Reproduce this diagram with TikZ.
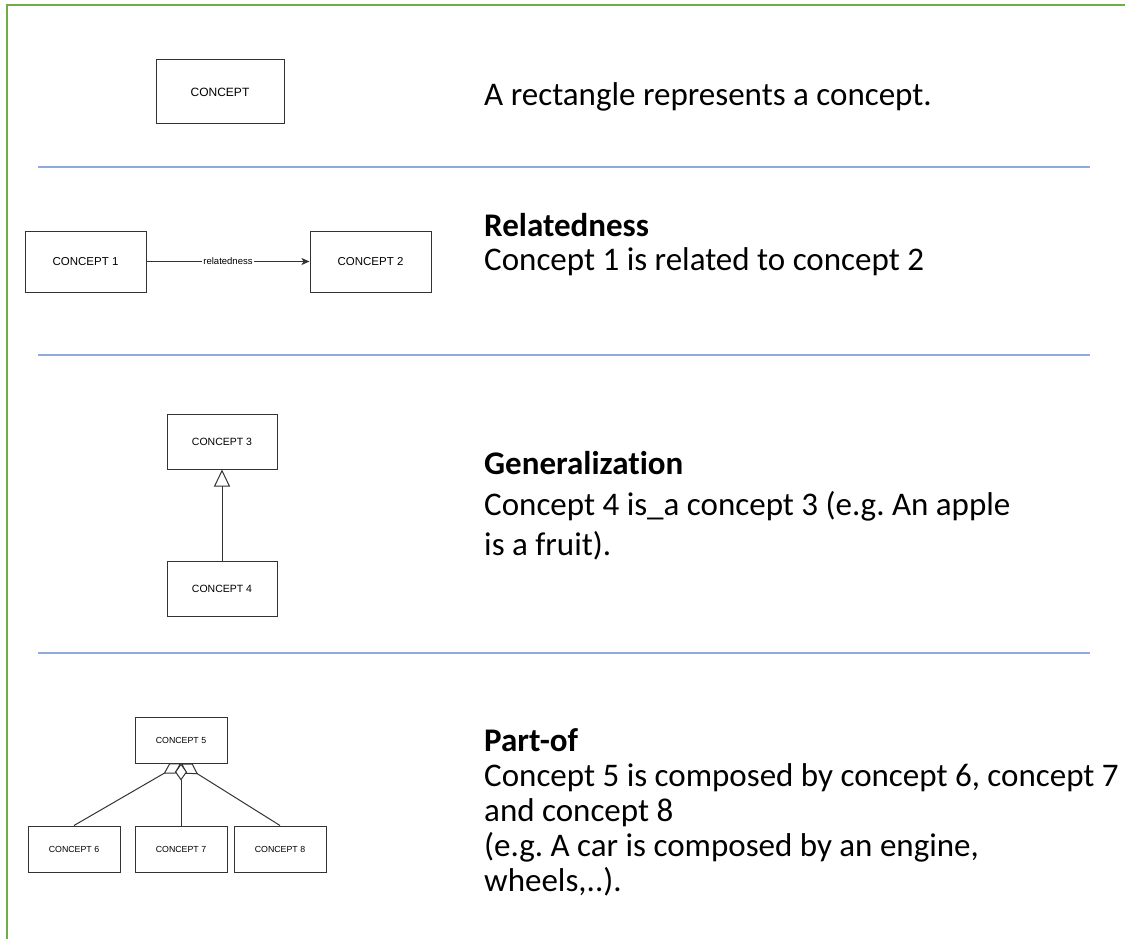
\documentclass[tikz,border=0pt]{standalone}
\usepackage{fontspec}
\setmainfont{Carlito}[Ligatures=NoCommon]
\newfontfamily\boxfont{Liberation Sans}
\usetikzlibrary{arrows.meta,backgrounds}
\definecolor{framegreen}{HTML}{70AD47}
\definecolor{sepblue}{HTML}{8FAADC}
\definecolor{boxline}{HTML}{333333}
\frenchspacing
\tikzset{
  cbox/.style={draw=boxline, fill=white, line width=1pt, inner sep=0pt},
  fA/.style={font=\boxfont\fontsize{12}{14}\selectfont},
  fB/.style={font=\boxfont\fontsize{11.5}{14}\selectfont},
  fC/.style={font=\boxfont\fontsize{10.5}{12}\selectfont},
  fD/.style={font=\boxfont\fontsize{8.8}{10}\selectfont},
  txt/.style={anchor=base west, inner sep=0pt, font=\fontsize{33}{40}\selectfont},
  hd/.style={anchor=base west, inner sep=0pt, font=\fontsize{33}{40}\selectfont\bfseries},
  sepline/.style={draw=sepblue, line width=1.3pt},
  conn/.style={draw=boxline, line width=1pt},
}
\begin{document}
\begin{tikzpicture}[x=1pt,y=-1pt]
\useasboundingbox (0,0) rectangle (1125,939);
% frame
\draw[framegreen, line width=2pt] (6.5,939) -- (6.5,5.5) -- (1125,5.5);
% separators
\draw[sepline] (38,167) -- (1090,167);
\draw[sepline] (38,355) -- (1090,355);
\draw[sepline] (38,653) -- (1090,653);

% concept boxes
\node[cbox, fA, minimum width=128pt, minimum height=64pt] (c0) at (220,92) {CONCEPT};
\node[cbox, fB, minimum width=121pt, minimum height=61pt] (c1) at (85.5,261.5) {CONCEPT 1};
\node[cbox, fB, minimum width=121pt, minimum height=61pt] (c2) at (370.5,261.5) {CONCEPT 2};
\node[cbox, fC, minimum width=110pt, minimum height=55pt] (c3) at (222,441.5) {CONCEPT 3};
\node[cbox, fC, minimum width=110pt, minimum height=55pt] (c4) at (222,588.5) {CONCEPT 4};
\node[cbox, fD, minimum width=92pt, minimum height=46pt] (c5) at (181,740) {CONCEPT 5};
\node[cbox, fD, minimum width=92pt, minimum height=46pt] (c6) at (74,849) {CONCEPT 6};
\node[cbox, fD, minimum width=92pt, minimum height=46pt] (c7) at (181,849) {CONCEPT 7};
\node[cbox, fD, minimum width=92pt, minimum height=46pt] (c8) at (280,849) {CONCEPT 8};

% connectors
\draw[conn, -{Stealth[length=8pt,width=7pt,inset=2pt]}] (c1) -- node[fill=white, inner sep=1pt, font=\boxfont\fontsize{9.5}{10}\selectfont] (rl) {relatedness} (c2);
\draw[conn, -{Triangle[length=17pt,width=16pt,fill=white]}] (c4) -- (c3);
\begin{scope}[on background layer]
  \draw[conn, {Diamond[length=20pt,width=12pt,fill=white]}-] (c5.south) -- (c6.north);
  \draw[conn, {Diamond[length=20pt,width=12pt,fill=white]}-] (c5.south) -- (c8.north);
  \draw[conn, {Diamond[length=17pt,width=12pt,fill=white]}-] (c5.south) -- (c7.north);
\end{scope}

% texts
\node[txt] (t0) at (484,106) {A rectangle represents a concept.};
\node[hd]  (t1a) at (484,236) {Relatedness};
\node[txt] (t1b) at (484,270) {Concept 1 is related to concept 2};
\node[hd]  (t2a) at (484,474) {Generalization};
\node[txt] (t2b) at (484,515) {Concept 4 is\_a concept 3 (e.g. An apple};
\node[txt] (t2c) at (484,555) {is a fruit).};
\node[hd]  (t3a) at (484,751) {Part-of};
\node[txt] (t3b) at (484,786) {Concept 5 is composed by concept 6, concept 7};
\node[txt] (t3c) at (484,821) {and concept 8};
\node[txt] (t3d) at (484,856) {(e.g. A car is composed by an engine,};
\node[txt] (t3e) at (484,891) {wheels,..).};
\end{tikzpicture}
\end{document}
